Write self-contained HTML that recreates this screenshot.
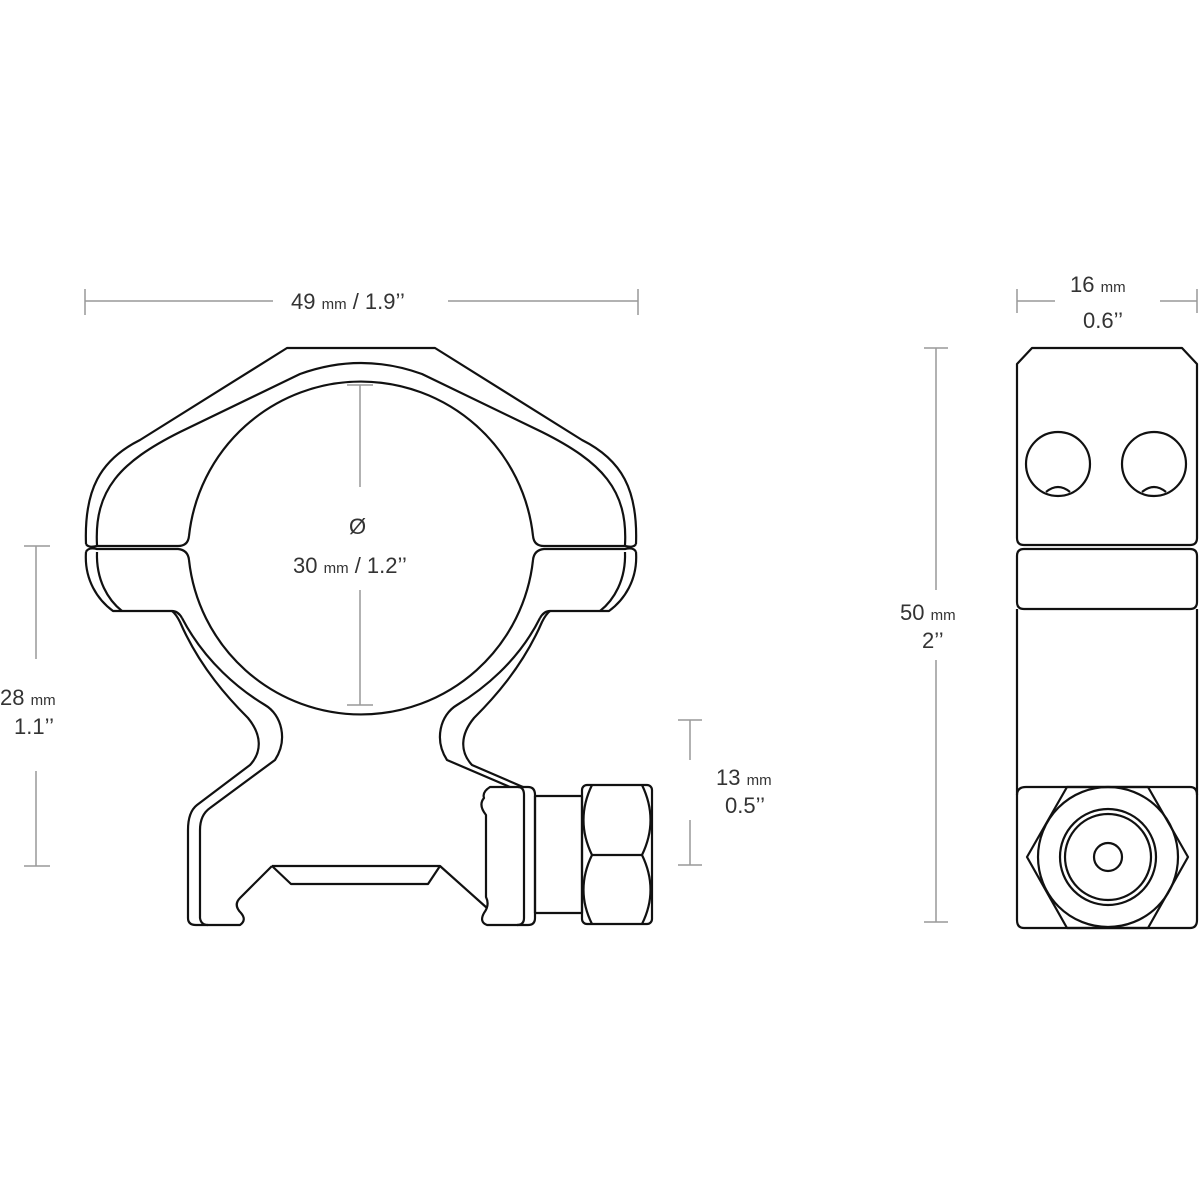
<!DOCTYPE html>
<html><head><style>
html,body{margin:0;padding:0;background:#fff;}
svg{display:block;}
text{font-family:"Liberation Sans",sans-serif;fill:#333;}
</style></head><body>
<svg width="1200" height="1200" viewBox="0 0 1200 1200" xmlns="http://www.w3.org/2000/svg">
<g stroke="#999" stroke-width="1.5" fill="none">
  <!-- 49mm -->
  <line x1="85" y1="301" x2="273" y2="301"/><line x1="448" y1="301" x2="638" y2="301"/>
  <line x1="85" y1="289" x2="85" y2="315"/><line x1="638" y1="289" x2="638" y2="315"/>
  <!-- 28mm -->
  <line x1="36" y1="546" x2="36" y2="659"/><line x1="36" y1="771" x2="36" y2="866"/>
  <line x1="24" y1="546" x2="50" y2="546"/><line x1="24" y1="866" x2="50" y2="866"/>
  <!-- diameter -->
  <line x1="360" y1="385" x2="360" y2="487"/><line x1="360" y1="590" x2="360" y2="705"/>
  <line x1="347" y1="385" x2="373" y2="385"/><line x1="347" y1="705" x2="373" y2="705"/>
  <!-- 13mm -->
  <line x1="690" y1="720" x2="690" y2="760"/><line x1="690" y1="820" x2="690" y2="865"/>
  <line x1="678" y1="720" x2="702" y2="720"/><line x1="678" y1="865" x2="702" y2="865"/>
  <!-- 50mm -->
  <line x1="936" y1="348" x2="936" y2="590"/><line x1="936" y1="660" x2="936" y2="922"/>
  <line x1="924" y1="348" x2="948" y2="348"/><line x1="924" y1="922" x2="948" y2="922"/>
  <!-- 16mm -->
  <line x1="1017" y1="301" x2="1055" y2="301"/><line x1="1160" y1="301" x2="1197" y2="301"/>
  <line x1="1017" y1="289" x2="1017" y2="313"/><line x1="1197" y1="289" x2="1197" y2="313"/>
</g>
<g font-size="22">
  <text x="291" y="309">49 <tspan font-size="15">mm</tspan> / 1.9’’</text>
  <text x="0" y="705">28 <tspan font-size="15">mm</tspan></text>
  <text x="14" y="734">1.1’’</text>
  <text x="349" y="534">Ø</text>
  <text x="293" y="573">30 <tspan font-size="15">mm</tspan> / 1.2’’</text>
  <text x="716" y="785">13 <tspan font-size="15">mm</tspan></text>
  <text x="725" y="813">0.5’’</text>
  <text x="900" y="620">50 <tspan font-size="15">mm</tspan></text>
  <text x="922" y="648">2’’</text>
  <text x="1070" y="292">16 <tspan font-size="15">mm</tspan></text>
  <text x="1083" y="328">0.6’’</text>
</g>
<g stroke="#111" stroke-width="2.2" fill="none" stroke-linejoin="round">
  <!-- upper outer -->
  <path d="M86,544 C84,490 100,460 140,440 L287,348 L435,348 L582,440 C622,460 638,490 636,544"/>
  <!-- upper inner -->
  <path d="M97,545 C94,490 120,462 180,432 L300,374 Q361,352 422,374 L542,432 C602,462 628,490 625,545"/>
  <!-- split -->
  <path d="M86,544 Q88,548 97,546 L178,546 Q188,546 189,536"/>
  <path d="M636,544 Q634,548 625,546 L544,546 Q534,546 533,536"/>
  <path d="M86,552 Q88,547 97,549 L178,549 Q188,550 189,560"/>
  <path d="M636,552 Q634,547 625,549 L544,549 Q534,550 533,560"/>
  <!-- circle -->
  <path d="M189,536 A173,173 0 0 1 533,536"/>
  <path d="M189,560 A173,173 0 0 0 533,560"/>
  <!-- lower band outer edges -->
  <path d="M86,552 C84,580 98,600 113,611 L172,611 Q178,611 182,618"/>
  <path d="M97,552 C96,580 108,600 122,611"/>
  <path d="M636,552 C638,580 624,600 609,611 L550,611 Q544,611 540,618"/>
  <path d="M625,552 C626,580 614,600 600,611"/>
  <!-- left leg -->
  <path d="M172,611 Q176,614 180,622 C200,668 230,700 248,718 C262,735 262,752 250,765 L197,805 Q188,812 188,830 L188,918 Q188,925 196,925 L240,925 Q247,920 241,913 Q233,905 240,898 L272,866"/>
  <path d="M182,618 C205,662 240,690 265,705 C282,715 288,740 275,760 L210,808 Q200,815 200,830 L200,918 Q201,925 208,925"/>
  <!-- rail -->
  <path d="M272,866 L440,866 L487,908"/>
  <path d="M272,866 L291,884 L428,884 L440,866"/>
  <!-- right leg -->
  <path d="M540,618 C518,662 482,690 457,705 C440,715 434,740 447,760 L510,787"/>
  <path d="M550,611 Q546,614 542,622 C522,668 492,700 474,718 C460,735 460,752 472,765 L523,787"/>
  <!-- clamp block -->
  <path d="M490,787 L518,787 Q524,787 524,795 L524,918 Q524,925 517,925 L487,925 Q479,922 484,913 Q490,905 486,897 L486,815 Q478,805 484,798 Q482,792 490,787 Z"/>
  <path d="M518,787 L528,787 Q535,787 535,795 L535,918 Q535,925 528,925 L517,925"/>
  <rect x="535" y="796" width="47" height="117"/>
  <rect x="582" y="785" width="70" height="139" rx="5"/>
  <path d="M592,785 Q575,820 592,855 Q575,890 592,924"/>
  <path d="M642,785 Q659,820 642,855 Q659,890 642,924"/>
  <line x1="592" y1="855" x2="642" y2="855"/>
  <!-- side view -->
  <path d="M1017,364 L1032,348 L1182,348 L1197,364 L1197,538 Q1197,545 1190,545 L1024,545 Q1017,545 1017,538 Z"/>
  <circle cx="1058" cy="464" r="32"/>
  <circle cx="1154" cy="464" r="32"/>
  <path d="M1046,492 Q1058,482 1070,492"/>
  <path d="M1142,492 Q1154,482 1166,492"/>
  <path d="M1024,549 L1190,549 Q1197,549 1197,556 L1197,602 Q1197,609 1190,609 L1024,609 Q1017,609 1017,602 L1017,556 Q1017,549 1024,549 Z"/>
  <line x1="1017" y1="609" x2="1017" y2="795"/><line x1="1197" y1="609" x2="1197" y2="795"/>
  <path d="M1026,787 L1190,787 Q1197,787 1197,795 L1197,920 Q1197,928 1190,928 L1024,928 Q1017,928 1017,920 L1017,795 Q1017,787 1026,787 Z"/>
  <path d="M1067,787 L1148,787 L1188,857 L1148,928 L1067,928 L1027,857 Z"/>
  <circle cx="1108" cy="857" r="70"/>
  <circle cx="1108" cy="857" r="48"/>
  <circle cx="1108" cy="857" r="43"/>
  <circle cx="1108" cy="857" r="14"/>
</g>
</svg>
</body></html>
